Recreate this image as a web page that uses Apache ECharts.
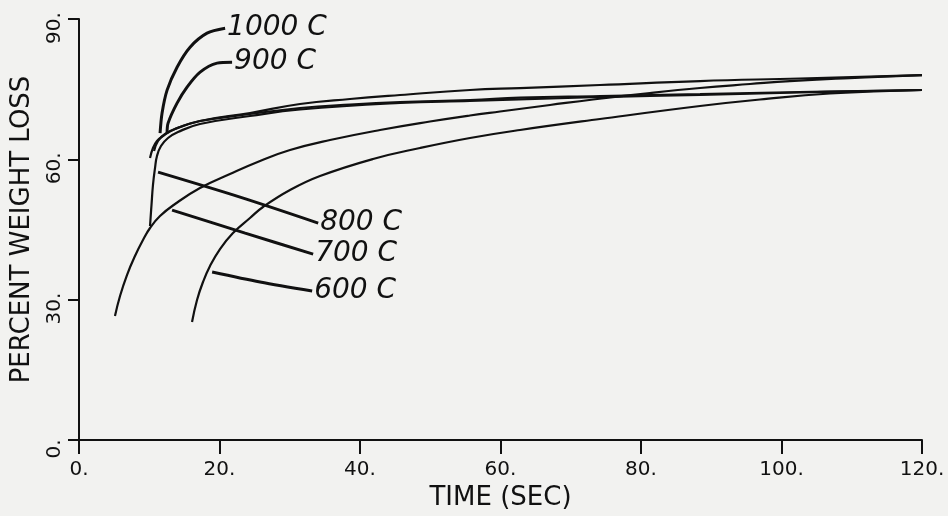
<!DOCTYPE html>
<html>
<head>
<meta charset="utf-8">
<script src="https://cdn.jsdelivr.net/npm/echarts@6/dist/echarts.min.js"></script>
<style>
html,body{margin:0;padding:0;background:#f2f2f0;}
#chart{width:948px;height:516px;}
</style>
</head>
<body>
<div id="chart"></div>
<script>
// Axis ticks
const xTicks = [0, 20, 40, 60, 80, 100, 120];
const yTicks = [0, 30, 60, 90];
const curveNames = ['1000 C', '900 C', '800 C', '700 C', '600 C'];

// Curves: [time (sec), percent weight loss]
const curve1000 = [[10.11,60.28],[10.53,62.42],[11.10,63.92],[11.96,64.99],[13.67,66.49],[17.22,68.19],[24.34,69.90],[31.46,71.83],[38.58,72.90],[45.69,73.75],[55.66,74.82],[62.78,75.24],[74.16,75.89],[88.40,76.74],[102.6,77.28],[120,78.02]];
const curve900 = [[10.68,61.78],[11.25,63.92],[12.24,65.41],[14.38,66.91],[17.22,68.19],[24.34,69.69],[31.46,70.97],[38.58,71.72],[45.69,72.25],[55.66,72.68],[62.78,73.21],[74.16,73.54],[88.40,73.96],[102.6,74.39],[120,74.82]];
const curve800 = [[10.11,45.75],[10.32,50.24],[10.53,54.51],[10.82,58.14],[11.10,60.71],[11.67,62.85],[12.67,64.56],[14.09,65.84],[17.22,67.55],[24.34,69.26],[31.46,70.65],[45.69,72.04],[55.66,72.47],[74.16,73.32],[88.40,73.75],[102.6,74.29],[120,74.82]];
const curve700 = [[5.12,26.51],[5.84,30.78],[6.83,35.27],[7.97,39.33],[9.11,42.75],[10.11,45.32],[11.53,47.88],[13.67,50.45],[17.22,53.87],[21.49,56.86],[25.77,59.64],[30.04,61.99],[35.73,64.13],[42.85,66.27],[49.96,68.08],[55.66,69.37],[59.93,70.22],[67.05,71.61],[73.17,72.79],[81.28,74.18],[88.40,75.25],[95.52,76.10],[101.2,76.74],[109.7,77.38],[120,78.02]];
const curve600 = [[16.09,25.22],[16.80,29.93],[17.65,33.78],[18.65,37.20],[20.07,40.83],[21.92,44.25],[24.34,47.46],[26.19,49.81],[30.04,53.44],[34.31,56.43],[41.85,60.07],[48.54,62.42],[55.66,64.56],[62.78,66.27],[74.16,68.62],[88.40,71.40],[96.94,72.79],[106.9,74.07],[120,74.82]];

// Label leader lines (from curve to label), data units
const leader1000 = [[11.54,65.60],[11.82,69.87],[12.54,74.79],[13.96,79.70],[15.81,83.97],[18.23,86.97],[20.80,88.03]];
const leader900 = [[12.54,65.60],[12.68,67.74],[13.96,72.01],[15.38,75.43],[17.24,78.63],[19.66,80.56],[21.79,80.77]];
const leader800 = [[11.25,57.26],[22.93,51.92],[34.05,46.37]];
const leader700 = [[13.25,49.15],[23.65,44.23],[33.33,39.74]];
const leader600 = [[18.95,35.90],[25.78,33.76],[33.19,31.84]];

const curves = [curve1000, curve900, curve800, curve700, curve600];
const leaders = [leader1000, leader900, leader800, leader700, leader600];

const ink = '#111';
const font = 'DejaVu Sans';

const series = [];
curves.forEach((c, i) => {
  series.push({
    type: 'line', name: curveNames[i], data: c, showSymbol: false, symbol: 'none',
    smooth: 0.45,
    lineStyle: {color: ink, width: 2.2}, silent: true, z: 3
  });
});
leaders.forEach((l, i) => {
  series.push({
    type: 'line', name: curveNames[i] + ' label', data: l, showSymbol: false, symbol: 'none',
    smooth: 0.3,
    lineStyle: {color: ink, width: 3}, silent: true, z: 3,
    endLabel: {
      show: true, formatter: curveNames[i], distance: 2,
      color: ink, fontFamily: font, fontStyle: 'italic', fontSize: 28
    }
  });
});

const chart = echarts.init(document.getElementById('chart'), null, {renderer: 'canvas'});
chart.setOption({
  animation: false,
  backgroundColor: '#f2f2f0',
  grid: {left: 79, right: 26, top: 19, bottom: 76, containLabel: false},
  xAxis: {
    type: 'value', min: xTicks[0], max: xTicks[xTicks.length - 1], interval: 20,
    name: 'TIME (SEC)', nameLocation: 'middle', nameGap: 44,
    nameTextStyle: {color: ink, fontFamily: font, fontSize: 26},
    axisLine: {show: true, lineStyle: {color: ink, width: 2}},
    axisTick: {show: true, inside: false, length: 14, lineStyle: {color: ink, width: 2}},
    axisLabel: {color: ink, fontFamily: font, fontSize: 20, margin: 20, formatter: v => v + '.'},
    splitLine: {show: false}
  },
  yAxis: {
    type: 'value', min: yTicks[0], max: yTicks[yTicks.length - 1], interval: 30,
    name: 'PERCENT WEIGHT LOSS', nameLocation: 'middle', nameGap: 44, nameRotate: 90,
    nameTextStyle: {color: ink, fontFamily: font, fontSize: 26},
    axisLine: {show: true, lineStyle: {color: ink, width: 2}},
    axisTick: {show: true, inside: false, length: 11, lineStyle: {color: ink, width: 2}},
    axisLabel: {color: ink, fontFamily: font, fontSize: 20, margin: 14, rotate: 90,
      formatter: v => v + '.', padding: [0, 18, 0, 0]},
    splitLine: {show: false}
  },
  series: series
});
</script>
</body>
</html>
